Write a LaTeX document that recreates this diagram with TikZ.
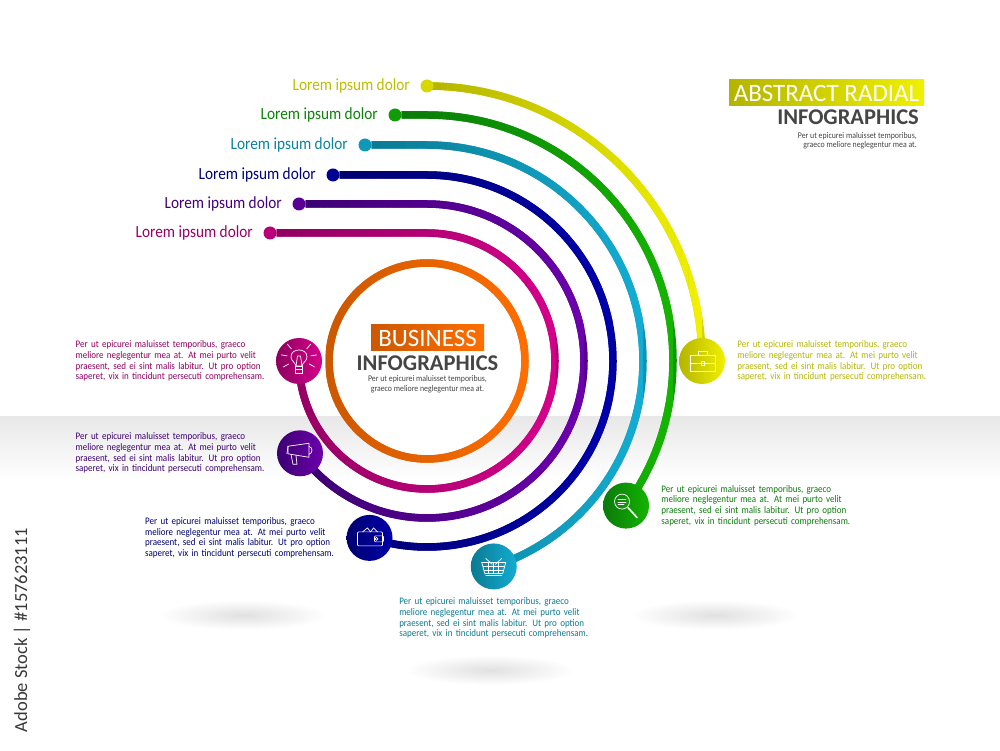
\documentclass[tikz,border=0pt]{standalone}
\usepackage{fontspec}
\setmainfont{Carlito}
\newfontfamily\tightfont[FakeStretch=0.9]{Carlito}
\usetikzlibrary{positioning,calc}
\pgfdeclarelayer{under}
\pgfsetlayers{under,main}
\definecolor{flameL}{HTML}{CC5800}
\definecolor{flameR}{HTML}{FF6E00}
\definecolor{berryL}{HTML}{8F0060}
\definecolor{berryR}{HTML}{D4008A}
\definecolor{violetL}{HTML}{3C0072}
\definecolor{violetR}{HTML}{6C00AC}
\definecolor{navyL}{HTML}{000070}
\definecolor{navyR}{HTML}{0000AA}
\definecolor{lagoonL}{HTML}{0A7A92}
\definecolor{lagoonR}{HTML}{14ACD2}
\definecolor{leafL}{HTML}{0A7A0A}
\definecolor{leafR}{HTML}{14B400}
\definecolor{lemonL}{HTML}{B4B400}
\definecolor{lemonR}{HTML}{F0F000}
\definecolor{inkgray}{HTML}{454545}
\tikzset{
	ringline/.style={line width=7.5},
	tipdot/.style={circle,inner sep=0,minimum size=13},
	iconball/.style={circle,inner sep=0,minimum size=46},
	glyph/.style={draw=white,line width=0.7},
	tiplabel/.style={font=\tightfont\fontsize{17}{18}\selectfont},
	blurb/.style={inner sep=0,text width=189,align=left,font=\tightfont\fontsize{10}{10.7}\selectfont},
	headbox/.style={inner sep=0,text=white,minimum height=26},
	headbold/.style={inner sep=0,text=inkgray,font=\bfseries\fontsize{22.5}{25}\selectfont},
	headnote/.style={inner sep=0,text=inkgray,font=\tightfont\fontsize{8.7}{9.4}\selectfont},
	floorshade/.style={inner color=black!12,outer color=white}
}
% #1,#2 span of the strips, #3,#4 colours, #5 the path
\newcommand{\stripdraw}[5]{%
	\draw[ringline,draw=#4!50!#3] #5;
	\foreach \k in {0,...,39}{
		\pgfmathsetmacro{\xa}{#1+(#2-#1)*\k/40}
		\pgfmathsetmacro{\xb}{\xa+(#2-#1)/40}
		\pgfmathsetmacro{\mixval}{100*\k/39}
		\begin{scope}
			\clip (\xa,0) rectangle (\xb,750);
			\draw[ringline,draw=#4!\mixval!#3] #5;
		\end{scope}
	}
}
\newcommand{\perut}{%
	\makebox[189pt][s]{Per ut epicurei maluisset temporibus, graeco}\\
	\makebox[189pt][s]{meliore neglegentur mea at. At mei purto velit}\\
	\makebox[189pt][s]{praesent, sed ei sint malis labitur. Ut pro option}\\
	\makebox[189pt][s]{saperet, vix in tincidunt persecuti comprehensam.}}
\begin{document}
\begin{tikzpicture}[line join=round,line cap=round,x=1pt,y=1pt]
	\useasboundingbox (0,0) rectangle (1000,750);
	\coordinate (hub) at (427,389);
	% dots at the line ends and the balls with the icons
	\foreach \nm/\ra/\an/\sx/\sy in {berry/128/-180/270/517,violet/157/-144/299/546,navy/186/-108/333/575,lagoon/216/-72/365/605,leaf/246/-36/395/635,lemon/275/0/427/664}{
		\node[tipdot,fill=\nm R!60!\nm L] (\nm-dot) at (\sx,\sy) {};
		\node[iconball,left color=\nm L,right color=\nm R] (\nm-ball) at ($(hub)+(\an:\ra)$) {};
		\node[tiplabel,text=\nm L!85!\nm R,left=7pt of \nm-dot] (\nm-label) {Lorem ipsum dolor};
	}
	\begin{pgfonlayer}{under}
		\shade[top color=black!9,bottom color=white] (0,333) rectangle (1000,270);
		\shade[floorshade] (243,135) ellipse (85 and 15);
		\shade[floorshade] (490,80) ellipse (85 and 15);
		\shade[floorshade] (715,135) ellipse (85 and 15);
		\fill[white] (hub) circle (98);
		\stripdraw{326}{528}{flameL}{flameR}{(hub) circle (98)}
		\foreach \nm/\ra/\an/\sx in {berry/128/-180/270,violet/157/-144/299,navy/186/-108/333,lagoon/216/-72/365,leaf/246/-36/395,lemon/275/0/427}{
			\pgfmathsetmacro{\xend}{427+\ra}
			\stripdraw{\sx}{\xend}{\nm L}{\nm R}{(\nm-dot) -- (\nm-dot -| hub) arc[start angle=90,end angle=\an,radius=\ra]}
		}
	\end{pgfonlayer}
	% texts beside the balls
	\node[blurb,text=berryL,left=11pt of berry-ball] (berry-text) {\perut};
	\node[blurb,text=violetL,left=12pt of violet-ball] (violet-text) {\perut};
	\node[blurb,text=navyL,left=12pt of navy-ball] (navy-text) {\perut};
	\node[blurb,text=lagoonL,below=8pt of lagoon-ball] (lagoon-text) {\perut};
	\node[blurb,text=leafL,right=12pt of leaf-ball] (leaf-text) {\perut};
	\node[blurb,text=lemonL,right=12pt of lemon-ball] (lemon-text) {\perut};
	% centre heading
	\node[headbox,left color=flameL,right color=flameR,minimum width=113,font=\fontsize{25}{27}\selectfont] (biz-box) at (427.5,412) {BUSINESS};
	\node[headbold,below=4pt of biz-box] (biz-bold) {INFOGRAPHICS};
	\node[headnote,align=center,below=5pt of biz-bold] (biz-note) {Per ut epicurei maluisset temporibus,\\graeco meliore neglegentur mea at.};
	% corner heading
	\node[headbold,anchor=north east] (top-bold) at (919,640) {INFOGRAPHICS};
	\node[headbox,left color=lemonL,right color=lemonR,minimum width=195,font=\fontsize{25}{27}\selectfont] (top-box) at (826.5,657) {ABSTRACT RADIAL};
	\node[headnote,align=right,below left=7pt and 2pt of top-bold.south east] (top-note) {Per ut epicurei maluisset temporibus,\\graeco meliore neglegentur mea at.};
	\node[rotate=90,text=black!78,font=\fontsize{18.5}{20}\selectfont] (stock) at (22,120) {Adobe Stock | \#157623111};
	% icons
	\begin{scope}[shift={(berry-ball)}]
		\draw[glyph] (-3,-5) .. controls (-4,-1) and (-8,0) .. (-8,4) .. controls (-8,9) and (-4,11) .. (0,11) .. controls (4,11) and (8,9) .. (8,4) .. controls (8,0) and (4,-1) .. (3,-5) -- cycle;
		\draw[glyph] (-3,-5) -- (-1.5,5) -- (1.5,5) -- (3,-5);
		\draw[glyph] (-3.5,-5) rectangle (3.5,-12);
		\draw[glyph] (-3.5,-8) -- (3.5,-8);
		\foreach \t in {10,50,130,170,-30,210}
		\draw[glyph] ($(0,3)+(\t:12)$) -- ($(0,3)+(\t:18)$);
	\end{scope}
	\begin{scope}[shift={(violet-ball)}]
		\draw[glyph] (-12,7) -- (9,10) -- (9,-4) -- (-12,-0.5) -- cycle;
		\draw[glyph] (-12,7) -- (-13,-0.5);
		\draw[glyph] (9,7) .. controls (13,6) and (13,0) .. (9,-1);
		\draw[glyph] (-9,-1) -- (-7,-11) -- (-3,-11) -- (-4,-2);
	\end{scope}
	\begin{scope}[shift={(navy-ball)}]
		\draw[glyph,rounded corners=1] (-12,6) rectangle (13,-8);
		\draw[glyph,rounded corners=1] (5,2) rectangle (14,-4);
		\draw[glyph] (7,-1) circle (1.5);
		\draw[glyph] (-7,6) -- (-2,10) -- (1,6) -- (4,10) -- (8,6);
	\end{scope}
	\begin{scope}[shift={(lagoon-ball)}]
		\draw[glyph] (-12,4) -- (12,4) -- (9,-7) -- (-9,-7) -- cycle;
		\draw[glyph] (-10.5,0) -- (10.5,0);
		\draw[glyph] (-9.5,-3.5) -- (9.5,-3.5);
		\foreach \u in {-5,0,5}
		\draw[glyph] (\u,4) -- (\u,-7);
		\draw[glyph] (-8,8) -- (-1.5,2);
		\draw[glyph] (8,8) -- (1.5,2);
		\draw[glyph] (-8,-9) -- (8,-9);
	\end{scope}
	\begin{scope}[shift={(leaf-ball)}]
		\draw[glyph] (-4,4) circle (7.5);
		\draw[glyph] (-8,6) -- (0,6);
		\draw[glyph] (-8,3.5) -- (0,3.5);
		\draw[glyph] (-8,1) -- (-2,1);
		\draw[glyph,line width=1.6] (2,-2) -- (11,-12);
	\end{scope}
	\begin{scope}[shift={(lemon-ball)}]
		\draw[glyph] (-12,6) rectangle (13,-10);
		\draw[glyph] (-4,6) -- (-4,10) -- (5,10) -- (5,6);
		\draw[glyph] (-12,-2) -- (13,-2);
		\draw[glyph] (-1,0) rectangle (2,-4);
	\end{scope}
\end{tikzpicture}
\end{document}
